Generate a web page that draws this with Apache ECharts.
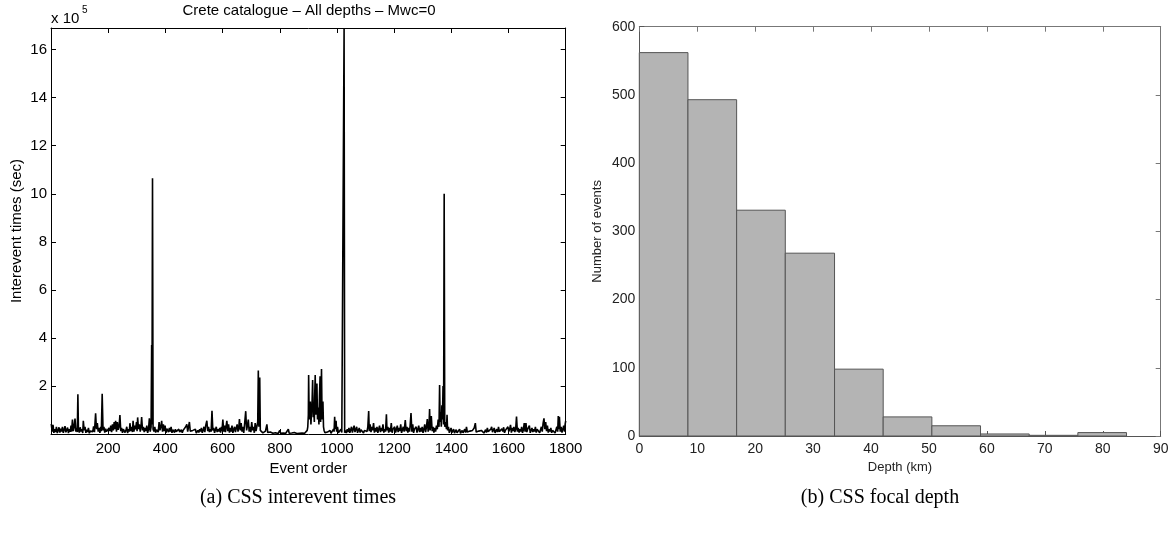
<!DOCTYPE html>
<html><head><meta charset="utf-8">
<script src="https://cdn.jsdelivr.net/npm/echarts@6/dist/echarts.min.js"></script>
<style>html,body{margin:0;padding:0;background:#fff}#c{width:1176px;height:540px}</style>
</head><body><div id="c"></div>
<script>
// Left panel: interevent times (units of 1e5 sec) vs event order
const intereventE5 = [
[1,0.42],[4,0.1],[7,0.38],[10,0.05],[13,0.2],[16,0.08],[19,0.3],[22,0.04],[25,0.15],[28,0.28],[31,0.06],[34,0.22],[37,0.1],[40,0.3],[43,0.05],[46,0.18],[49,0.33],[52,0.07],[55,0.12],[58,0.27],[61,0.04],[64,0.2],[67,0.09],[70,0.35],[72,0.1],[75,0.6],[78,0.12],[81,0.3],[84,0.64],[87,0.1],[90,0.25],[92,0.08],[94,1.65],[96,0.2],
[99,0.06],[102,0.28],[105,0.1],[108,0.2],[111,0.04],[113,0.55],[116,0.15],[119,0.3],[122,0.05],[125,0.18],[128,0.08],[131,0.25],[134,0.03],[137,0.12],[140,0.06],[143,0.2],[146,0.1],[149,0.32],[152,0.08],[156,0.86],[159,0.2],[162,0.45],[165,0.1],[168,0.25],[171,0.05],[174,0.3],[176,0.12],[179,1.67],[182,0.15],[185,0.3],[188,0.06],[191,0.22],[194,0.1],[197,0.18],[200,0.05],
[203,0.25],[206,0.12],[209,0.35],[212,0.08],[215,0.4],[218,0.15],[221,0.5],[223,0.2],[226,0.55],[229,0.1],[232,0.5],[235,0.18],[238,0.3],[241,0.79],[244,0.12],[247,0.25],[250,0.05],[253,0.2],[256,0.28],[259,0.06],[262,0.15],[265,0.3],[268,0.04],[271,0.2],[274,0.1],[276,0.45],[279,0.12],[282,0.3],[285,0.08],[287,0.55],[290,0.1],[293,0.35],[296,0.2],[299,0.5],[301,0.12],[303,0.69],[306,0.2],[309,0.4],[312,0.1],[315,0.35],[317,0.71],[320,0.15],[323,0.3],[326,0.08],[329,0.25],[332,0.12],[335,0.35],[338,0.05],[341,0.2],[344,0.65],[347,0.1],[350,0.3],[352,3.7],[353,0.4],[355,10.65],[357,0.2],
[360,0.1],[363,0.3],[366,0.06],[369,0.18],[372,0.25],[375,0.08],[378,0.5],[381,0.15],[384,0.3],[387,0.55],[390,0.1],[393,0.4],[396,0.12],[399,0.35],[402,0.05],[405,0.22],[408,0.3],[411,0.08],[414,0.25],[417,0.1],[420,0.3],[423,0.05],[426,0.18],[429,0.25],[432,0.06],[435,0.2],[438,0.1],[441,0.15],[444,0.04],[447,0.2],[450,0.08],[453,0.12],[456,0.18],[459,0.05],[462,0.15],[465,0.22],[468,0.08],[471,0.3],[475,0.4],[478,0.1],[481,0.3],[484,0.5],[487,0.12],[490,0.2],[493,0.05],[496,0.15],[499,0.08],[502,0.12],[505,0.2],[508,0.04],[511,0.1],[514,0.15],[517,0.06],[520,0.2],[523,0.1],[526,0.25],[529,0.05],[532,0.15],[535,0.3],[538,0.08],[541,0.35],[545,0.55],[548,0.12],[551,0.3],[554,0.08],[557,0.2],[560,0.1],[563,0.97],[566,0.15],
[569,0.25],[572,0.05],[575,0.18],[578,0.3],[581,0.08],[584,0.2],[587,0.1],[590,0.25],[593,0.06],[596,0.3],[598,0.12],[601,0.6],[604,0.1],[607,0.35],[610,0.08],[612,0.3],[615,0.55],[618,0.12],[621,0.4],[624,0.06],[627,0.25],[630,0.1],[633,0.35],[636,0.05],[639,0.2],[642,0.3],[645,0.08],[648,0.25],[651,0.4],[654,0.1],[657,0.3],[659,0.62],[662,0.15],[665,0.45],[668,0.1],[671,0.3],[674,0.05],[677,0.4],[681,0.95],[684,0.15],[687,0.35],[690,0.6],[693,0.1],[696,0.3],[699,0.08],[702,0.5],[705,0.15],[708,0.3],[711,0.05],[714,0.45],[717,0.12],[720,0.2],[723,0.5],[725,2.64],[727,0.3],[730,2.35],[732,0.15],
[735,0.08],[738,0.2],[741,0.05],[744,0.1],[747,0.03],[750,0.12],[753,0.05],[755,0.4],[758,0.06],[761,0.1],[764,0.03],[767,0.08],[770,0.02],[773,0.06],[776,0.03],[779,0.1],[782,0.02],[785,0.05],[788,0.02],[791,0.04],[794,0.02],[797,0.06],[800,0.15],[803,0.03],[806,0.05],[809,0.02],[812,0.04],[815,0.02],[818,0.06],[821,0.03],[824,0.05],[827,0.02],[830,0.2],[833,0.03],[836,0.05],[839,0.02],[842,0.04],[845,0.02],[848,0.03],[851,0.06],[854,0.02],[857,0.04],[860,0.02],[863,0.05],[866,0.02],[869,0.03],[872,0.08],[875,0.02],[878,0.04],[881,0.02],[884,0.06],[887,0.03],[890,0.05],[893,0.1],[896,0.15],[898,0.3],
[900,0.8],[901,2.46],[903,0.6],[905,1.1],[907,1.35],[909,0.4],[911,0.9],[913,1.3],[915,2.25],[917,0.7],[919,1.0],[921,0.5],[922,1.5],[924,2.46],[926,0.8],[928,1.4],[930,2.1],[932,0.6],[933,1.0],[935,1.1],[937,0.4],[939,1.6],[941,2.4],[943,0.5],[944,1.2],[946,2.71],[948,0.6],[949,1.0],[951,1.35],[953,0.3],[955,0.15],
[958,0.05],[961,0.1],[964,0.03],[967,0.08],[970,0.02],[973,0.06],[976,0.15],[979,0.03],[982,0.1],[985,0.05],[988,0.2],[990,0.1],[992,0.72],[994,0.2],[997,0.55],[999,0.1],[1002,0.3],[1005,0.05],[1008,0.12],[1011,0.04],[1014,0.2],[1017,0.06],[1020,0.1],[1023,0.03],[1025,16.9],[1027,0.05],
[1030,0.15],[1033,0.04],[1036,0.2],[1039,0.08],[1042,0.25],[1045,0.05],[1048,0.12],[1051,0.3],[1054,0.06],[1057,0.2],[1060,0.35],[1063,0.08],[1066,0.15],[1069,0.3],[1072,0.05],[1075,0.12],[1078,0.25],[1081,0.06],[1084,0.18],[1087,0.1],[1090,0.22],[1093,0.04],[1096,0.15],[1099,0.08],[1102,0.2],[1105,0.1],[1108,0.3],[1111,0.96],[1113,0.12],[1116,0.4],[1119,0.08],[1122,0.3],[1125,0.15],[1128,0.45],[1131,0.06],[1134,0.25],[1137,0.1],[1140,0.3],[1143,0.05],[1146,0.2],[1149,0.35],[1152,0.08],[1155,0.25],[1158,0.12],[1161,0.4],[1164,0.06],[1167,0.2],[1170,0.1],[1173,0.82],[1175,0.15],[1178,0.3],[1181,0.06],[1184,0.25],[1187,0.1],[1190,0.45],[1193,0.05],[1196,0.2],[1199,0.12],
[1202,0.3],[1205,0.06],[1208,0.2],[1211,0.35],[1214,0.08],[1217,0.25],[1220,0.12],[1223,0.4],[1226,0.05],[1229,0.18],[1232,0.3],[1235,0.1],[1239,0.58],[1242,0.12],[1245,0.3],[1248,0.06],[1251,0.25],[1254,0.1],[1256,0.35],[1259,0.87],[1262,0.1],[1265,0.4],[1268,0.05],[1271,0.2],[1274,0.12],[1277,0.3],[1280,0.06],[1283,0.2],[1286,0.35],[1289,0.08],[1292,0.25],[1295,0.1],[1298,0.3],[1301,0.05],[1304,0.2],[1307,0.4],[1310,0.08],[1313,0.3],[1316,0.62],[1319,0.1],[1322,0.35],[1324,1.04],[1326,0.15],[1328,0.5],[1330,0.75],[1333,0.12],[1336,0.3],[1339,0.06],[1342,0.25],[1345,0.1],[1348,0.35],[1351,0.2],[1354,0.6],[1357,0.3],[1359,2.04],[1361,0.5],[1363,0.9],[1365,0.3],[1367,1.2],[1369,0.6],[1371,2.0],[1373,0.4],[1375,10.0],[1377,0.3],[1380,0.5],[1383,0.2],[1385,0.8],[1387,0.15],[1390,0.3],[1393,0.05],
[1396,0.15],[1399,0.25],[1402,0.06],[1405,0.12],[1408,0.2],[1411,0.04],[1414,0.1],[1417,0.18],[1420,0.05],[1423,0.12],[1426,0.08],[1429,0.2],[1432,0.03],[1435,0.1],[1438,0.15],[1441,0.05],[1444,0.12],[1447,0.2],[1450,0.06],[1453,0.3],[1456,0.08],[1459,0.15],[1462,0.04],[1465,0.12],[1468,0.2],[1471,0.06],[1474,0.15],[1477,0.1],[1480,0.25],[1484,0.45],[1487,0.08],[1490,0.15],[1493,0.05],[1496,0.12],[1499,0.2],[1502,0.06],[1505,0.15],[1508,0.1],[1511,0.22],[1514,0.04],[1517,0.12],[1520,0.18],[1523,0.06],[1526,0.25],[1529,0.1],[1532,0.15],[1535,0.05],[1538,0.2],[1541,0.3],[1544,0.08],[1547,0.15],[1550,0.25],[1553,0.05],[1556,0.12],[1559,0.2],[1562,0.08],[1565,0.3],[1568,0.1],[1571,0.18],[1574,0.06],[1577,0.22],[1580,0.1],[1583,0.28],[1586,0.05],[1589,0.15],[1592,0.2],[1595,0.08],[1598,0.3],[1601,0.1],[1604,0.2],[1607,0.38],[1610,0.06],[1613,0.25],[1616,0.12],[1619,0.3],[1622,0.08],[1625,0.2],[1628,0.73],[1631,0.1],[1634,0.25],[1637,0.06],[1640,0.2],[1643,0.1],[1646,0.3],[1649,0.05],[1652,0.18],[1655,0.45],[1658,0.1],[1661,0.45],[1664,0.08],[1667,0.2],[1670,0.12],[1673,0.35],[1676,0.05],[1679,0.15],[1682,0.25],[1685,0.08],[1688,0.2],[1691,0.1],[1694,0.3],[1697,0.06],[1700,0.2],[1703,0.12],[1706,0.25],[1709,0.05],[1712,0.18],[1715,0.3],[1718,0.1],[1721,0.45],[1724,0.65],[1727,0.2],[1730,0.5],[1733,0.12],[1736,0.35],[1739,0.06],[1742,0.2],[1745,0.1],[1748,0.25],[1751,0.05],[1754,0.15],[1757,0.08],[1760,0.2],[1763,0.04],[1766,0.12],[1769,0.3],[1772,0.1],[1774,0.75],[1776,0.2],[1778,0.72],[1781,0.1],[1784,0.3],[1787,0.06],[1790,0.2],[1793,0.35],[1796,0.1],[1798,0.4],[1800,0.55]
];
const eventTicks = [200, 400, 600, 800, 1000, 1200, 1400, 1600, 1800];
const intereventTicks = [2, 4, 6, 8, 10, 12, 14, 16];

// Right panel: focal depth histogram
const depthBinEdges = [0, 8.4, 16.8, 25.2, 33.7, 42.1, 50.5, 58.9, 67.3, 75.7, 84.1];
const depthCounts = [562, 493, 331, 268, 98, 28, 15, 3, 1, 5];
const depthTicks = [0, 10, 20, 30, 40, 50, 60, 70, 80, 90];
const countTicks = [0, 100, 200, 300, 400, 500, 600];

const SANS = '"Liberation Sans", Arial, Helvetica, sans-serif';
const SERIF = '"Liberation Serif", "Times New Roman", serif';

const histData = depthCounts.map((c, i) => [depthBinEdges[i], depthBinEdges[i + 1], c]);

const chart = echarts.init(document.getElementById('c'), null, {renderer: 'canvas'});

function tickFmt(list) { return v => (list.indexOf(v) >= 0 ? String(v) : ''); }

const leftLine = {lineStyle: {color: '#000', width: 1}};
const rightLineDark = {lineStyle: {color: '#555', width: 1}};
const rightLineLight = {lineStyle: {color: '#777', width: 1}};

chart.setOption({
  animation: false,
  backgroundColor: '#fff',
  title: [
    {text: 'Crete catalogue \u2013 All depths \u2013 Mwc=0', left: 309, top: 3, padding: 0, textAlign: 'center',
     textStyle: {fontFamily: SANS, fontSize: 15, fontWeight: 'normal', color: '#000'}},
    {text: '(a) CSS interevent times', left: 298, top: 488, padding: 0, textAlign: 'center',
     textStyle: {fontFamily: SERIF, fontSize: 20, fontWeight: 'normal', color: '#000'}},
    {text: '(b) CSS focal depth', left: 880, top: 488, padding: 0, textAlign: 'center',
     textStyle: {fontFamily: SERIF, fontSize: 20, fontWeight: 'normal', color: '#000'}}
  ],
  graphic: [
    {type: 'text', left: 51, top: 11, style: {text: 'x 10', font: '15px ' + SANS, fill: '#000'}},
    {type: 'text', left: 82, top: 5, style: {text: '5', font: '10px ' + SANS, fill: '#000'}}
  ],
  grid: [
    {left: 51, top: 28, width: 514.7, height: 406, containLabel: false},
    {left: 639.3, top: 26.7, width: 521.4, height: 409.3, containLabel: false}
  ],
  xAxis: [
    {gridIndex: 0, type: 'value', position: 'bottom', min: 0, max: 1800, interval: 200,
     name: 'Event order', nameLocation: 'middle', nameGap: 20,
     nameTextStyle: {fontFamily: SANS, fontSize: 15, color: '#000'},
     axisLine: {show: true, onZero: false, ...leftLine},
     axisTick: {show: true, inside: true, length: 5, ...leftLine},
     axisLabel: {formatter: tickFmt(eventTicks), fontFamily: SANS, fontSize: 15, color: '#000', margin: 7},
     splitLine: {show: false}},
    {gridIndex: 0, type: 'value', position: 'top', min: 0, max: 1800, interval: 200,
     axisLine: {show: true, onZero: false, ...leftLine},
     axisTick: {show: true, inside: true, length: 5, ...leftLine},
     axisLabel: {show: false}, splitLine: {show: false}},
    {gridIndex: 1, type: 'value', position: 'bottom', min: 0, max: 90, interval: 10,
     name: 'Depth (km)', nameLocation: 'middle', nameGap: 22,
     nameTextStyle: {fontFamily: SANS, fontSize: 13, color: '#222'},
     axisLine: {show: true, onZero: false, ...rightLineDark},
     axisTick: {show: true, inside: true, length: 5, ...rightLineDark},
     axisLabel: {formatter: tickFmt(depthTicks), fontFamily: SANS, fontSize: 14, color: '#222', margin: 6},
     splitLine: {show: false}},
    {gridIndex: 1, type: 'value', position: 'top', min: 0, max: 90, interval: 10,
     axisLine: {show: true, onZero: false, ...rightLineLight},
     axisTick: {show: true, inside: true, length: 5, ...rightLineLight},
     axisLabel: {show: false}, splitLine: {show: false}}
  ],
  yAxis: [
    {gridIndex: 0, type: 'value', position: 'left', min: 0, max: 16.9, interval: 2,
     name: 'Interevent times (sec)', nameLocation: 'middle', nameGap: 27, nameRotate: 90,
     nameTextStyle: {fontFamily: SANS, fontSize: 15, color: '#000'},
     axisLine: {show: true, onZero: false, ...leftLine},
     axisTick: {show: true, inside: true, length: 5, ...leftLine},
     axisLabel: {formatter: tickFmt(intereventTicks), fontFamily: SANS, fontSize: 15, color: '#000', margin: 4},
     splitLine: {show: false}},
    {gridIndex: 0, type: 'value', position: 'right', min: 0, max: 16.9, interval: 2,
     axisLine: {show: true, onZero: false, ...leftLine},
     axisTick: {show: true, inside: true, length: 5, ...leftLine},
     axisLabel: {show: false}, splitLine: {show: false}},
    {gridIndex: 1, type: 'value', position: 'left', min: 0, max: 600, interval: 100,
     name: 'Number of events', nameLocation: 'middle', nameGap: 35, nameRotate: 90,
     nameTextStyle: {fontFamily: SANS, fontSize: 13, color: '#222'},
     axisLine: {show: true, onZero: false, ...rightLineDark},
     axisTick: {show: true, inside: true, length: 5, ...rightLineDark},
     axisLabel: {formatter: tickFmt(countTicks), fontFamily: SANS, fontSize: 14, color: '#222', margin: 4},
     splitLine: {show: false}},
    {gridIndex: 1, type: 'value', position: 'right', min: 0, max: 600, interval: 100,
     axisLine: {show: true, onZero: false, ...rightLineLight},
     axisTick: {show: true, inside: true, length: 5, ...rightLineLight},
     axisLabel: {show: false}, splitLine: {show: false}}
  ],
  series: [
    {type: 'line', xAxisIndex: 0, yAxisIndex: 0, data: intereventE5, showSymbol: false, symbol: 'none',
     lineStyle: {color: '#000', width: 1.6}, clip: true, silent: true},
    {type: 'custom', xAxisIndex: 2, yAxisIndex: 2, data: histData, encode: {x: [0, 1], y: 2},
     renderItem: function (params, api) {
       const p0 = api.coord([api.value(0), api.value(2)]);
       const p1 = api.coord([api.value(1), 0]);
       return {type: 'rect', shape: {x: p0[0], y: p0[1], width: p1[0] - p0[0], height: p1[1] - p0[1]},
               style: {fill: '#b4b4b4', stroke: '#555', lineWidth: 1}};
     }}
  ]
});
</script>
</body></html>
